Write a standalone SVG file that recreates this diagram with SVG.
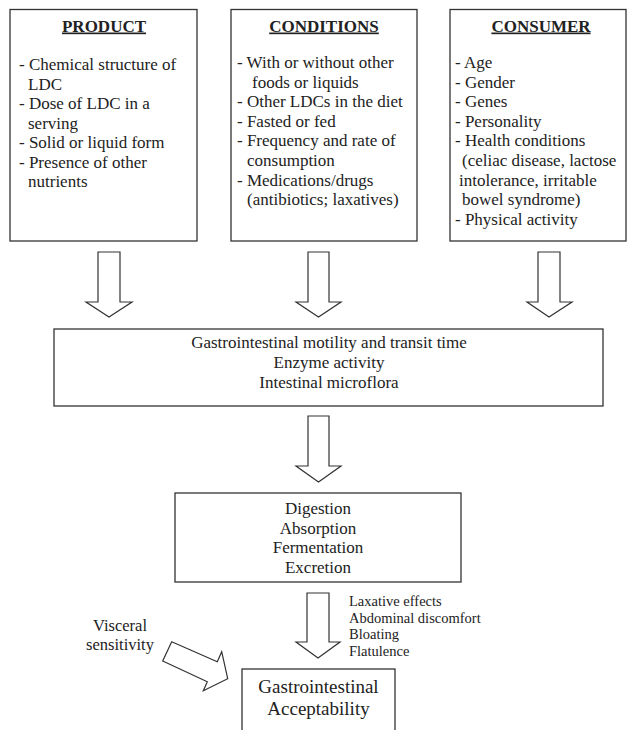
<svg xmlns="http://www.w3.org/2000/svg" width="628" height="730" viewBox="0 0 628 730">
<style>
text{font-family:"Liberation Serif","Times New Roman",serif;fill:#222;}
.t{font-size:17px;}
.h{font-size:17px;font-weight:bold;text-decoration:underline;text-anchor:middle;}
.c{text-anchor:middle;}
.s{font-size:14.5px;}
.box{fill:#fff;stroke:#333;stroke-width:1.3;}
.arr{fill:#fff;stroke:#333;stroke-width:1.2;stroke-linejoin:miter;}
</style>
<rect width="628" height="730" fill="#fff"/>
<g id="product">
<rect class="box" x="10" y="9.5" width="187" height="231.5"/>
<text class="h" x="104" y="31.5">PRODUCT</text>
<text class="t" x="19" y="70">- Chemical structure of</text>
<text class="t" x="28" y="89.5">LDC</text>
<text class="t" x="19" y="109">- Dose of LDC in a</text>
<text class="t" x="28" y="128.5">serving</text>
<text class="t" x="19" y="148">- Solid or liquid form</text>
<text class="t" x="19" y="167.5">- Presence of other</text>
<text class="t" x="28" y="187">nutrients</text>
</g>
<g id="conditions">
<rect class="box" x="231" y="9.5" width="186" height="231.5"/>
<text class="h" x="324" y="31.5">CONDITIONS</text>
<text class="t" x="237" y="68">- With or without other</text>
<text class="t" x="252" y="87.6">foods or liquids</text>
<text class="t" x="237" y="107.2">- Other LDCs in the diet</text>
<text class="t" x="237" y="126.8">- Fasted or fed</text>
<text class="t" x="237" y="146.4">- Frequency and rate of</text>
<text class="t" x="247" y="166">consumption</text>
<text class="t" x="237" y="185.6">- Medications/drugs</text>
<text class="t" x="247" y="205.2">(antibiotics; laxatives)</text>
</g>
<g id="consumer">
<rect class="box" x="450" y="9.5" width="176" height="231.5"/>
<text class="h" x="541" y="31.5">CONSUMER</text>
<text class="t" x="455" y="68">- Age</text>
<text class="t" x="455" y="87.6">- Gender</text>
<text class="t" x="455" y="107.2">- Genes</text>
<text class="t" x="455" y="126.8">- Personality</text>
<text class="t" x="455" y="146.4">- Health conditions</text>
<text class="t" x="462" y="166">(celiac disease, lactose</text>
<text class="t" x="459" y="185.6">intolerance, irritable</text>
<text class="t" x="462" y="205.2">bowel syndrome)</text>
<text class="t" x="455" y="224.8">- Physical activity</text>
</g>
<g id="factors">
<rect class="box" x="54" y="329" width="549" height="77"/>
<text class="t c" x="329" y="348">Gastrointestinal motility and transit time</text>
<text class="t c" x="329" y="368">Enzyme activity</text>
<text class="t c" x="329" y="388">Intestinal microflora</text>
</g>
<g id="processes">
<rect class="box" x="175" y="493" width="286" height="89"/>
<text class="t c" x="318" y="514">Digestion</text>
<text class="t c" x="318" y="533.5">Absorption</text>
<text class="t c" x="318" y="553">Fermentation</text>
<text class="t c" x="318" y="572.5">Excretion</text>
</g>
<g id="acceptability">
<rect class="box" x="242" y="669" width="153" height="80"/>
<text class="c" style="font-size:19px" x="318.5" y="693">Gastrointestinal</text>
<text class="c" style="font-size:19px" x="318.5" y="715">Acceptability</text>
</g>
<g id="symptoms">
<text class="s" x="349" y="606">Laxative effects</text>
<text class="s" x="349" y="622.7">Abdominal discomfort</text>
<text class="s" x="349" y="639.3">Bloating</text>
<text class="s" x="349" y="656">Flatulence</text>
</g>
<g id="visceral">
<text class="c" style="font-size:16.5px" x="120" y="631">Visceral</text>
<text class="c" style="font-size:16.5px" x="120" y="650">sensitivity</text>
</g>
<g id="connectors">
<polygon class="arr" points="98,252 120,252 120,302 132,302 109,317 86,302 98,302"/>
<polygon class="arr" points="308,252 329,252 329,302 341,302 318.5,317 296,302 308,302"/>
<polygon class="arr" points="538,252 560,252 560,302 572,302 549,317 527,302 538,302"/>
<polygon class="arr" points="308,416 329,416 329,466 341,466 318.5,482 296,466 308,466"/>
<polygon class="arr" points="307,593 329,593 329,642 340,642 318,658 296,642 307,642"/>
<polygon class="arr" points="171.7,641.7 217.3,661.7 221.7,651.7 227.7,678.7 203.3,690.7 207.3,681.7 162.7,661"/>
</g>
</svg>
